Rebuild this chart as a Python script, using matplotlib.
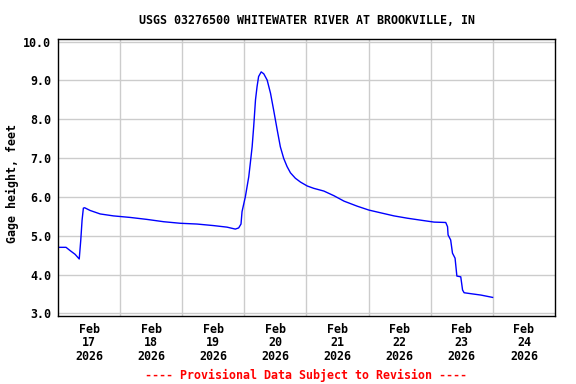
from matplotlib import pyplot as plt
import matplotlib.dates as mdates
import pandas as pd
import numpy as np

# gage height readings, hours after 2026-02-17 00:00
hours = [0, 3.1, 4.6, 6.6, 8.2, 8.8, 9.3, 9.8, 10.3, 12.4, 16.3, 21.4, 27.9, 34.3,
         40.8, 47.2, 53.7, 60.1, 65.3, 68.5, 69.8, 70.7, 71.1, 72.4, 73.7, 74.3,
         75.0, 75.6, 76.3, 76.9, 77.5, 78.5, 79.5, 80.8, 82.1, 83.3, 84.7, 85.9,
         87.2, 88.5, 89.8, 91.7, 93.7, 96.3, 98.8, 102.7, 106.6, 110.5, 115.6,
         120.1, 124.6, 129.8, 135.0, 140.1, 145.3, 149.8, 150.5, 150.7, 151.7,
         152.4, 153.4, 154.1, 155.6, 156.3, 156.9, 160.1, 163.4, 167.9]
gage_ft = [4.70, 4.70, 4.62, 4.52, 4.40, 4.89, 5.40, 5.71, 5.72, 5.65, 5.56, 5.51,
           5.47, 5.42, 5.36, 5.32, 5.30, 5.26, 5.22, 5.17, 5.20, 5.30, 5.62, 6.01,
           6.52, 6.87, 7.29, 7.81, 8.50, 8.84, 9.10, 9.22, 9.17, 9.01, 8.67, 8.24,
           7.72, 7.29, 6.99, 6.78, 6.62, 6.48, 6.38, 6.28, 6.22, 6.15, 6.03, 5.89,
           5.76, 5.66, 5.59, 5.51, 5.45, 5.40, 5.35, 5.34, 5.23, 5.02, 4.89, 4.55,
           4.42, 3.96, 3.94, 3.60, 3.53, 3.50, 3.47, 3.41]

start = pd.Timestamp("2026-02-17")
end = pd.Timestamp("2026-02-25")
times = start + pd.to_timedelta(hours, unit="h")
days = pd.date_range(start, end, freq="D")
noon = days[:-1] + pd.Timedelta(hours=12)
yticks = np.arange(3, 11)

font = {"family": "DejaVu Sans Mono", "weight": "bold", "size": 8.4}

fig = plt.figure(figsize=(5.76, 3.84), dpi=100)
ax = fig.add_axes([0.1007, 0.177, 0.8628, 0.7207])

ax.plot(times, gage_ft, color="#0000ff", linewidth=1)

ax.set_xlim(start, end)
ax.set_ylim(2.93, 10.06)

ax.set_xticks(noon)
ax.set_xticklabels([d.strftime("%b\n%d\n%Y") for d in noon], fontdict=font, linespacing=1.05)
ax.set_xticks(days[1:-1], minor=True)
ax.set_yticks(yticks)
ax.set_yticklabels(["%.1f" % v for v in yticks], fontdict=font)

ax.grid(False)
ax.grid(True, which="minor", axis="x", color="#cccccc", linewidth=1)
ax.grid(True, which="major", axis="y", color="#cccccc", linewidth=1)
ax.set_axisbelow(True)
ax.tick_params(which="both", length=0)
ax.tick_params(axis="y", pad=5)
ax.tick_params(axis="x", pad=5)
for s in ax.spines.values():
    s.set_linewidth(1)

ax.set_ylabel("Gage height, feet", fontdict=font)
ax.yaxis.set_label_coords(-0.079, 0.48)
fig.text(0.533, 0.946, "USGS 03276500 WHITEWATER RIVER AT BROOKVILLE, IN",
         ha="center", va="center", **font)
fig.text(0.531, 0.023, "---- Provisional Data Subject to Revision ----",
         ha="center", va="center", color="#ff0000", **font)

plt.savefig("out.png", dpi=100)
